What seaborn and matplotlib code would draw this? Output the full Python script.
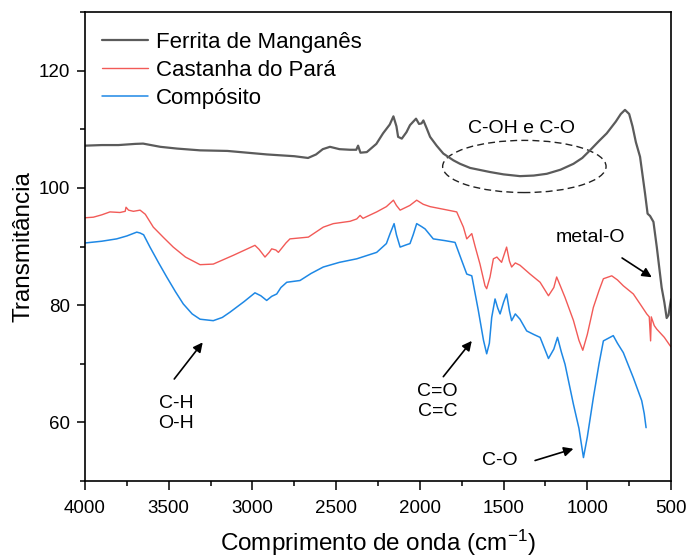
import numpy as np
import pandas as pd
import matplotlib
matplotlib.use("Agg")
import matplotlib.pyplot as plt
from matplotlib.patches import Ellipse
from matplotlib.ticker import FixedLocator, MultipleLocator
import seaborn as sns

# FTIR spectra: wavenumber (cm^-1) and transmittance
ferrita_wn = [4000, 3900, 3800, 3700, 3653, 3550, 3450, 3313, 3150, 2913, 2750, 2668,
              2620, 2580, 2537, 2480, 2417, 2380, 2369, 2355, 2317, 2260, 2220, 2180,
              2158, 2140, 2130, 2108, 2080, 2059, 2023, 2005, 1990, 1979, 1960, 1939,
              1900, 1860, 1800, 1760, 1700, 1581, 1500, 1402, 1320, 1242, 1160, 1083,
              1030, 984, 930, 884, 830, 800, 775, 750, 730, 710, 685, 655, 640, 625,
              605, 585, 556, 540, 526, 515, 506, 500]
ferrita_t = [107.2, 107.3, 107.3, 107.5, 107.55, 107.0, 106.7, 106.4, 106.3, 105.7, 105.4, 105.1,
             105.7, 106.6, 107.0, 106.6, 106.5, 106.5, 107.2, 106.0, 106.1, 107.5, 109.3, 110.8,
             112.2, 110.5, 108.7, 108.4, 109.5, 110.7, 111.8, 110.9, 111.0, 111.5, 110.2, 108.7,
             107.2, 105.85, 104.7, 104.1, 103.4, 102.7, 102.3, 102.0, 102.1, 102.4, 103.1, 104.1,
             105.1, 106.4, 108.0, 109.3, 111.3, 112.6, 113.3, 112.6, 110.5, 107.8, 105.3, 99.0, 95.6, 95.2,
             94.2, 89.9, 83.0, 80.5, 77.8, 78.3, 80.0, 81.0]

castanha_wn = [4000, 3950, 3900, 3851, 3791, 3760, 3755, 3740, 3711, 3671, 3640, 3592,
               3530, 3473, 3400, 3313, 3234, 3114, 3000, 2985, 2960, 2925, 2900, 2885,
               2860, 2845, 2800, 2776, 2666, 2577, 2517, 2417, 2377, 2357, 2340, 2258,
               2200, 2158, 2140, 2118, 2060, 2019, 1980, 1939, 1850, 1780, 1740, 1720,
               1700, 1690, 1670, 1641, 1611, 1601, 1581, 1561, 1540, 1512, 1482, 1465,
               1452, 1430, 1402, 1342, 1282, 1232, 1200, 1183, 1160, 1133, 1083, 1050,
               1027, 1000, 964, 930, 904, 854, 820, 785, 725, 680, 645, 630, 622, 618,
               600, 585, 540, 506, 500]
castanha_t = [94.9, 95.0, 95.4, 95.9, 95.8, 96.0, 96.7, 96.2, 96.0, 96.2, 95.5, 93.3,
              91.5, 89.9, 88.2, 86.9, 87.0, 88.5, 90.0, 90.2, 89.5, 88.2, 89.0, 89.6,
              89.4, 89.0, 90.6, 91.3, 91.6, 93.3, 93.9, 94.3, 94.7, 95.3, 94.8, 95.9,
              96.8, 97.9, 97.0, 96.2, 97.0, 97.9, 97.2, 96.8, 96.3, 95.9, 93.3, 91.3,
              91.9, 92.2, 90.0, 87.0, 83.3, 82.8, 84.8, 87.9, 88.2, 87.3, 89.9, 87.5,
              86.5, 87.2, 86.8, 85.3, 83.9, 81.6, 83.0, 84.8, 83.2, 81.3, 77.4, 74.0,
              72.3, 75.0, 79.6, 82.5, 84.5, 85.0, 84.3, 83.3, 81.9, 80.0, 78.5, 78.0, 73.9, 78.0,
              76.5, 75.9, 74.5, 73.1, 72.9]

composito_wn = [4000, 3900, 3811, 3750, 3691, 3671, 3650, 3612, 3560, 3512, 3460, 3413,
                3360, 3313, 3234, 3180, 3134, 3050, 2985, 2950, 2915, 2885, 2855, 2830,
                2795, 2716, 2650, 2577, 2480, 2377, 2258, 2200, 2178, 2154, 2140, 2118,
                2080, 2059, 2040, 2019, 1990, 1969, 1920, 1850, 1790, 1750, 1720, 1690,
                1651, 1620, 1601, 1585, 1571, 1551, 1535, 1521, 1500, 1482, 1465, 1452,
                1430, 1402, 1362, 1320, 1282, 1232, 1200, 1178, 1155, 1133, 1083, 1050,
                1023, 1000, 964, 930, 904, 845, 820, 785, 725, 675, 660, 649]
composito_t = [90.6, 90.9, 91.3, 91.8, 92.45, 92.3, 92.0, 89.9, 87.2, 84.8, 82.3, 80.2,
               78.5, 77.6, 77.35, 77.9, 78.8, 80.6, 82.1, 81.6, 80.8, 81.5, 81.9, 83.0,
               83.9, 84.2, 85.4, 86.5, 87.3, 87.9, 89.0, 90.5, 92.2, 93.9, 92.0, 89.9,
               90.3, 90.5, 92.0, 93.9, 93.4, 93.0, 91.3, 91.0, 90.7, 87.6, 85.3, 85.0,
               79.1, 74.0, 71.7, 73.5, 77.9, 81.05, 79.5, 78.5, 80.5, 81.9, 79.0, 77.35,
               78.5, 77.6, 75.6, 75.0, 74.5, 70.9, 72.5, 74.5, 72.0, 69.9, 63.1, 59.0,
               54.0, 57.5, 64.2, 70.0, 73.9, 74.8, 73.5, 71.9, 67.6, 63.7, 61.5, 59.1]

labels = ["Ferrita de Manganês", "Castanha do Pará", "Compósito"]
colors = ["#5b5b5b", "#f25a57", "#1e88e5"]
widths = [1.6, 1.0, 1.1]

sns.set_style("ticks")
plt.rcParams["font.family"] = ["Liberation Sans", "DejaVu Sans"]
plt.rcParams["mathtext.fontset"] = "custom"
plt.rcParams["mathtext.rm"] = "Liberation Sans"
plt.rcParams["mathtext.default"] = "regular"
plt.rcParams["text.color"] = "black"
plt.rcParams["axes.labelcolor"] = "black"
plt.rcParams["xtick.color"] = "black"
plt.rcParams["ytick.color"] = "black"

fig = plt.figure(figsize=(6.9, 5.57), dpi=100)
ax = fig.add_axes([0.1232, 0.1364, 0.8493, 0.8421])

series = [(ferrita_wn, ferrita_t), (castanha_wn, castanha_t), (composito_wn, composito_t)]
for (wn, t), lab, col, lw in zip(series, labels, colors, widths):
    df = pd.DataFrame({"wn": wn, "t": t})
    sns.lineplot(data=df, x="wn", y="t", ax=ax, color=col, linewidth=lw, label=lab)

ax.set_xlim(4000, 500)
ax.set_ylim(50, 130)
ax.xaxis.set_major_locator(FixedLocator([4000, 3500, 3000, 2500, 2000, 1500, 1000, 500]))
ax.xaxis.set_minor_locator(MultipleLocator(250))
ax.yaxis.set_major_locator(FixedLocator([60, 80, 100, 120]))
ax.yaxis.set_minor_locator(MultipleLocator(10))
ax.tick_params(which="both", direction="out", top=False, right=False, width=1.1,
               color="black", labelsize=13.5, labelcolor="black")
ax.tick_params(axis="y", which="major", length=6, pad=5)
ax.tick_params(axis="x", which="major", length=6.5, pad=7)
ax.tick_params(which="minor", length=3.5)
for sp in ax.spines.values():
    sp.set_linewidth(1.2)
    sp.set_color("black")
    sp.set_visible(True)

ax.set_xlabel("Comprimento de onda (cm$^{-1}$)", fontsize=17.5, labelpad=8)
ax.set_ylabel("Transmitância", fontsize=17.5, labelpad=3)

leg = ax.legend(loc="upper left", frameon=False, fontsize=16, handlelength=2.1,
                handletextpad=0.35, labelspacing=0.3, borderaxespad=0.3,
                bbox_to_anchor=(0.002, 0.99))
for txt in leg.get_texts():
    txt.set_color("black")

# Band assignments
ax.add_patch(Ellipse((1376, 103.65), 976, 8.9, fill=False, ls=(0, (5, 3)),
                     lw=1.0, ec="#222222"))
ax.text(1392, 110.2, "C-OH e C-O", fontsize=14, ha="center", va="center")

arrow = dict(arrowstyle="-|>", color="black", lw=1.2, mutation_scale=14)
ax.annotate("metal-O", xy=(615, 84.75), xytext=(984, 91.6), fontsize=14,
            ha="center", va="center", arrowprops=dict(arrow, shrinkA=12, shrinkB=0))
ax.annotate("", xy=(3297, 73.65), xytext=(3467, 67.4), arrowprops=dict(arrow, shrinkA=0, shrinkB=0))
ax.text(3457, 61.5, "C-H\nO-H", fontsize=14, ha="center", va="center", linespacing=1.25)
ax.annotate("", xy=(1690, 73.9), xytext=(1860, 67.8), arrowprops=dict(arrow, shrinkA=0, shrinkB=0))
ax.text(1894, 63.5, "C=O\nC=C", fontsize=14, ha="center", va="center", linespacing=1.25)
ax.annotate("", xy=(1083, 55.5), xytext=(1312, 53.5), arrowprops=dict(arrow, shrinkA=0, shrinkB=0))
ax.text(1521, 53.5, "C-O", fontsize=14, ha="center", va="center")

fig.savefig("out.png", dpi=100)
